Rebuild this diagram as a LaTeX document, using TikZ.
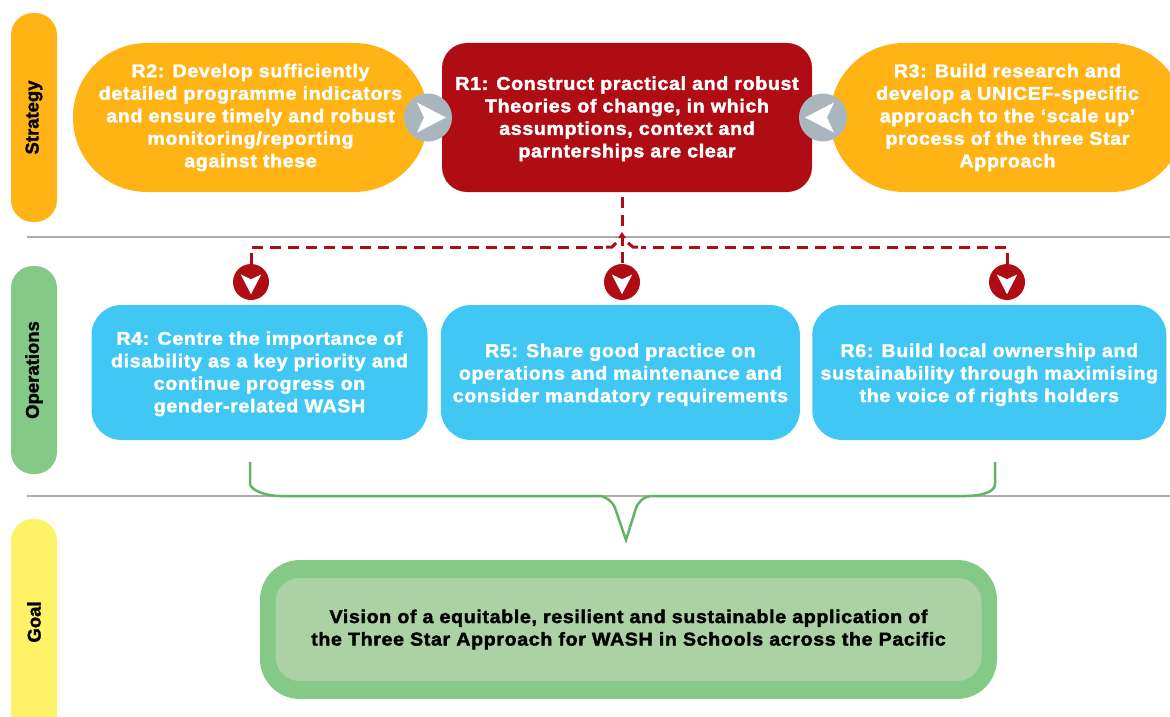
\documentclass[tikz,border=0pt]{standalone}
\usepackage{fontspec}
\setmainfont{Liberation Sans}[LetterSpace=3.5,FakeStretch=1.06,BoldFeatures={FakeBold=2}]
\newfontfamily\barfont{Liberation Sans}[BoldFeatures={FakeBold=1.5}]
\usetikzlibrary{arrows.meta,positioning}

\definecolor{starorange}{HTML}{FFB314}
\definecolor{starred}{HTML}{AF0C14}
\definecolor{starblue}{HTML}{40C7F4}
\definecolor{stargreen}{HTML}{85C987}
\definecolor{starpale}{HTML}{ABD1A4}
\definecolor{staryellow}{HTML}{FFF266}
\definecolor{stargrey}{HTML}{A9B6BE}
\definecolor{bracegreen}{HTML}{62B366}

\newcommand{\dropline}[1]{\rule{0pt}{#1pt}}

\tikzset{
  textbox/.style={inner sep=0pt,align=center,text=white,
    font=\fontsize{18.5}{22.5}\selectfont\bfseries},
  pillbox/.style={textbox,fill=starorange,minimum height=149pt,rounded corners=74pt},
  bluebox/.style={textbox,fill=starblue,minimum height=135pt,rounded corners=30pt},
  barbox/.style={inner sep=0pt,minimum width=46pt,rounded corners=22pt},
  barlabel/.style={rotate=90,text=black,font=\barfont\fontsize{18.5}{20}\selectfont\bfseries},
  greycirc/.style={circle,fill=stargrey,minimum size=48pt,inner sep=0pt},
  redcirc/.style={circle,fill=starred,minimum size=36pt,inner sep=0pt},
  dashline/.style={starred,line width=3pt,dash pattern=on 10.5pt off 7.5pt},
  navarrow/.pic={\fill[white] (-11,-15) -- (18,0) -- (-11,15) -- (-4,0) -- cycle;},
}

\begin{document}
\begin{tikzpicture}[x=1pt,y=-1pt]
  \useasboundingbox (0,0) rectangle (1170,717);

  % side bars
  \node[barbox,fill=starorange,minimum height=209pt] (strategy) at (34,117.5) {};
  \node[barbox,fill=stargreen,minimum height=208pt] (operations) at (34,370) {};
  \node[barbox,fill=staryellow,minimum height=230pt] (goal) at (34,634) {};
  \node[barlabel] (strategylabel) at (strategy) {Strategy};
  \node[barlabel] (operationslabel) at (operations) {Operations};
  \node[barlabel] (goallabel) at (34,622) {Goal};

  % separators
  \draw[black!32,line width=1.5pt] (27,237) -- (1170,237);
  \draw[black!32,line width=1.5pt] (27,496) -- (1170,496);

  % top row
  \node[textbox,fill=starred,minimum width=370pt,minimum height=149pt,rounded corners=25pt] (r1) at (627,117.5)
    {\dropline{16}R1: Construct practical and robust\\Theories of change, in which\\assumptions, context and\\parnterships are clear};
  \node[pillbox,minimum width=355pt] (r2) at (250.5,117.5)
    {R2: Develop sufficiently\\detailed programme indicators\\and ensure timely and robust\\monitoring/reporting\\against these};
  \node[pillbox,minimum width=355pt] (r3) at (1007.5,117.5)
    {R3: Build research and\\develop a UNICEF-specific\\approach to the ‘scale up’\\process of the three Star\\Approach};

  \node[greycirc] (c2) at (428,117.5) {};
  \node[greycirc] (c3) at (823,117.5) {};
  \pic at (c2) {navarrow};
  \pic[rotate=180] at (c3) {navarrow};

  % middle row
  \node[bluebox,minimum width=336pt] (r4) at (259.5,372.5)
    {\dropline{16}R4: Centre the importance of\\disability as a key priority and\\continue progress on\\gender-related WASH};
  \node[bluebox,minimum width=359pt] (r5) [right=13pt of r4]
    {\dropline{18}R5: Share good practice on\\operations and maintenance and\\consider mandatory requirements};
  \node[bluebox,minimum width=354pt] (r6) [right=12pt of r5]
    {\dropline{18}R6: Build local ownership and\\sustainability through maximising\\the voice of rights holders};

  \node[redcirc] (c4) at (251,282) {};
  \node[redcirc] (c5) at (622,282) {};
  \node[redcirc] (c6) at (1007,282) {};
  \foreach \c in {c4,c5,c6}
    \pic[rotate=-90,scale=0.68] at (\c) {navarrow};

  % dashed links
  \coordinate (drop) at (622,197);
  \coordinate (split) at (622,232);
  \coordinate (leftend) at (603,247);
  \coordinate (rightend) at (641,247);
  \draw[dashline] (drop) -- (622,228);
  \draw[dashline] (622,252) -- (c5.north);
  \draw[dashline] (c4.north) -- (251,247) -- (leftend);
  \draw[dashline] (c6.north) -- (1007,247) -- (rightend);
  \draw[starred,line width=3pt] (leftend) ++(3,0) -- ++(6,0) -- ++(4,-4);
  \draw[starred,line width=3pt] (rightend) ++(-3,0) -- ++(-5,0) -- ++(-5,-4);
  \fill[starred] (split) -- (626,238) -- (618,238) -- cycle;
  \draw[starred,line width=3pt] (split) ++(0,4) -- ++(0,10);

  % brace
  \coordinate (bl) at (250,462);
  \coordinate (br) at (995,462);
  \coordinate (btip) at (626,540);
  \draw[bracegreen,line width=2.5pt,line join=miter]
    (bl) -- (250,484) .. controls (251,490) and (265,496) .. (280,496)
    -- (598,496) .. controls (606,496) and (612,501) .. (615,508) -- (btip)
    -- (636,508) .. controls (639,501) and (644,496) .. (653,496)
    -- (965,496) .. controls (982,496) and (995,492) .. (995,484) -- (br);

  % goal
  \node[inner sep=0pt,fill=stargreen,minimum width=737pt,minimum height=139pt,rounded corners=40pt] (outer) at (628.5,629.5) {};
  \node[inner sep=0pt,fill=starpale,minimum width=706pt,minimum height=103pt,rounded corners=24pt,align=center,
    text=black,font=\fontsize{18.5}{22.5}\selectfont\bfseries] (vision) at (outer)
    {Vision of a equitable, resilient and sustainable application of\\the Three Star Approach for WASH in Schools across the Pacific};
\end{tikzpicture}
\end{document}
